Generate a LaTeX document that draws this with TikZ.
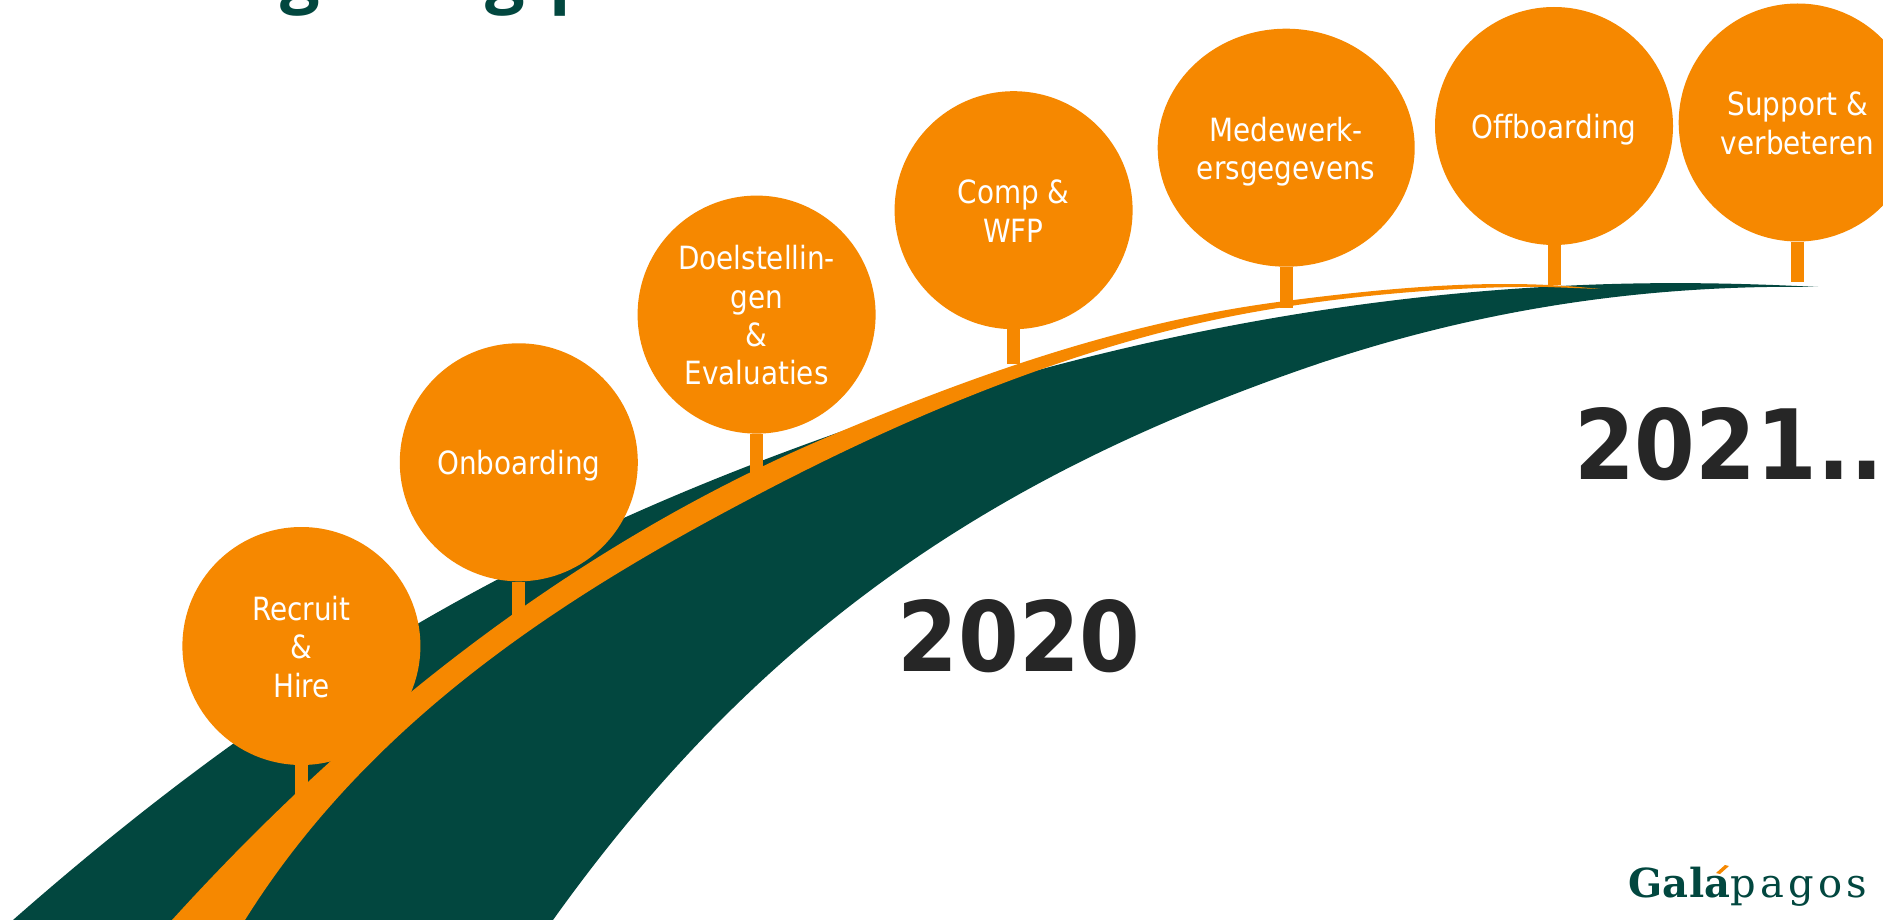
\documentclass[tikz,border=0pt]{standalone}
\usepackage{fontspec}
\usetikzlibrary{shapes.geometric}
\setmainfont{DejaVu Sans}[FakeStretch=0.87]
\newfontfamily\yearfont{DejaVu Sans}[FakeStretch=0.9]
\newfontfamily\titlefont{Open Sans}
\newfontfamily\logofont{DejaVu Serif}
\definecolor{roadgreen}{HTML}{02473F}
\definecolor{roadorange}{HTML}{F68800}
\definecolor{yeartext}{HTML}{262626}
\newcommand\stoplabel[1]{\raisebox{0pt}[\dimexpr\height+10pt\relax][\depth]{\begin{tabular}{@{}c@{}}#1\end{tabular}}}
\tikzset{
  stop/.style={circle,fill=roadorange,draw=none,text=white,minimum size=238pt,inner sep=0pt,font=\fontsize{32}{38.4}\selectfont},
  stem/.style={draw=roadorange,line width=13pt},
  year/.style={text=yeartext,inner sep=0pt,font=\yearfont\bfseries\fontsize{97}{100}\selectfont},
  titleglyph/.style={text=roadgreen,anchor=base,inner sep=0pt,font=\titlefont\bfseries\fontsize{70}{70}\selectfont}
}
\begin{document}
\begin{tikzpicture}[x=1pt,y=-1pt]
\clip (0,0) rectangle (1883,920);
\fill[white] (0,0) rectangle (1883,920);
% green road
\fill[roadgreen] (13,920) .. controls (303,665) and (547,536) .. (837,433)
  .. controls (1077,347.6) and (1321,298) .. (1561,286)
  .. controls (1640,282) and (1720,282) .. (1818,287)
  .. controls (1630,284) and (1460,314) .. (1300,370)
  .. controls (1000,475) and (763,626) .. (553,920) -- cycle;
% orange road
\fill[roadorange] (172,920) .. controls (392,678) and (617,525) .. (837,433)
  .. controls (987,370) and (1128,322) .. (1278,302)
  .. controls (1370,290) and (1440,284) .. (1505,284)
  .. controls (1550,284) and (1580,287) .. (1600,289)
  -- (1548,287)
  .. controls (1470,286) and (1370,293) .. (1278,308)
  .. controls (1108,334.5) and (931,404) .. (761,493)
  .. controls (581,587) and (375,712) .. (245,920) -- cycle;
% stops
\node[stop] (recruit) at (301.4,646) {\stoplabel{Recruit\\\&\\Hire}};
\node[stop] (onboarding) at (518.8,462.3) {\stoplabel{Onboarding}};
\node[stop] (doel) at (756.6,314.6) {\stoplabel{Doelstellin-\\gen\\\&\\Evaluaties}};
\node[stop] (comp) at (1013.6,210.2) {\stoplabel{Comp \&\\WFP}};
\node[stop,ellipse,minimum width=257pt,minimum height=238pt] (mede) at (1286.2,147.7) {\stoplabel{Medewerk-\\ersgegevens}};
\node[stop] (off) at (1554,126) {\stoplabel{Offboarding}};
\node[stop] (support) at (1797.7,122.5) {\stoplabel{Support \&\\verbeteren}};
% stem feet
\coordinate (f1) at (301.4,795);
\coordinate (f2) at (518.8,619);
\coordinate (f3) at (756.6,474);
\coordinate (f4) at (1013.6,364);
\coordinate (f5) at (1286.2,308);
\coordinate (f6) at (1554,285);
\coordinate (f7) at (1797.7,282);
\draw[stem] (recruit.south) -- (f1);
\draw[stem] (onboarding.south) -- (f2);
\draw[stem] (doel.south) -- (f3);
\draw[stem] (comp.south) -- (f4);
\draw[stem] (mede.south) -- (f5);
\draw[stem] (off.south) -- (f6);
\draw[stem] (support.south) -- (f7);
% years
\node[year] (y2020) at (1019,636) {2020};
\node[year,anchor=west] (y2021) at (1574,444) {2021..};
% clipped title remains
\node[titleglyph] (g1) at (300.5,0) {g};
\node[titleglyph] (g2) at (505.5,0) {g};
\node[titleglyph] (p1) at (572,0) {p};
% logo
\node[anchor=base west,inner sep=0pt,text=roadgreen,font=\fontsize{40}{40}\selectfont] (logo) at (1628,897)
 {\logofont\bfseries\addfontfeature{LetterSpace=1}Galá\mdseries\addfontfeature{LetterSpace=10.5}pagos};
\fill[white] (1702,858) rectangle (1734,874.5);
\fill[roadorange] (1716,873) -- (1725,865) -- (1729,866) -- (1720,874) -- cycle;
\end{tikzpicture}
\end{document}
